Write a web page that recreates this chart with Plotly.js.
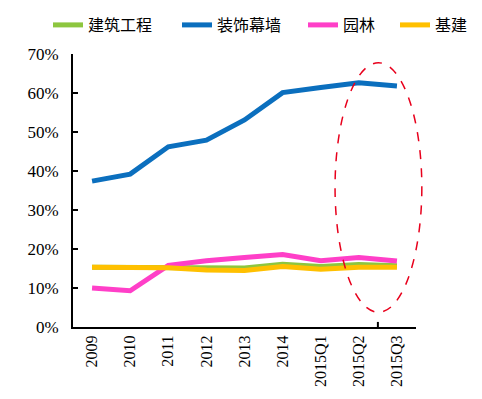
<!DOCTYPE html>
<html><head><meta charset="utf-8">
<script src="https://cdn.plot.ly/plotly-3.0.1.min.js"></script>
<style>html,body{margin:0;padding:0;background:#fff}</style>
</head><body>
<div id="chart" style="width:482px;height:399px"></div>
<script>
const categories = ["2009","2010","2011","2012","2013","2014","2015Q1","2015Q2","2015Q3"];
const jianzhu = [15.3,15.3,15.2,15.0,15.1,16.1,15.5,16.0,15.7];
const zhuangshi = [37.4,39.2,46.2,47.9,53.1,60.1,61.4,62.6,61.8];
const yuanlin = [10.0,9.3,15.8,17.0,17.8,18.6,17.0,17.8,16.9];
const jijian = [15.3,15.3,15.2,14.6,14.5,15.5,14.8,15.3,15.3];
const seriesNames = ["建筑工程","装饰幕墙","园林","基建"];
const yTicks = [0,10,20,30,40,50,60,70];

const mk = (y, name, color, lg) => ({
  x: categories, y: y, name: name, type: "scatter", mode: "lines",
  line: {color: color, width: 5}, legend: lg
});
const data = [
  mk(jianzhu, seriesNames[0], "#8DC63F", "legend"),
  mk(zhuangshi, seriesNames[1], "#0B6FBE", "legend2"),
  mk(yuanlin, seriesNames[2], "#FF3FC8", "legend3"),
  mk(jijian, seriesNames[3], "#FFC000", "legend4")
];
const lg = (px) => ({orientation: "h", xref: "container", x: px / 482, xanchor: "left",
  yref: "container", y: 1 - 8 / 399, yanchor: "top", bgcolor: "rgba(0,0,0,0)",
  font: {family: "Noto Sans CJK SC", size: 16, color: "#000"}, itemwidth: 30});
const layout = {
  width: 482, height: 399,
  margin: {l: 73, r: 66, t: 54, b: 72, autoexpand: false},
  paper_bgcolor: "#fff", plot_bgcolor: "#fff",
  showlegend: true,
  legend: lg(48), legend2: lg(177), legend3: lg(303), legend4: lg(395),
  xaxis: {type: "category", range: [-0.5, 8.5], showline: true, linecolor: "#000", linewidth: 2,
    ticks: "", showgrid: false, zeroline: false, tickangle: -90,
    tickfont: {family: "Liberation Serif", size: 16, color: "#000"}},
  yaxis: {range: [0, 70], tickvals: yTicks, ticktext: yTicks.map(v => v + "%"),
    showline: true, linecolor: "#000", linewidth: 2, ticks: "inside", ticklen: 5, tickwidth: 2, tickcolor: "#000",
    showgrid: false, zeroline: false, ticklabelstandoff: 9,
    tickfont: {family: "Liberation Serif", size: 17, color: "#000"}},
  shapes: [
    {type: "circle", xref: "paper", yref: "paper", x0: 0.764, x1: 1.017, y0: 0.054, y1: 0.968,
     line: {color: "#E8001C", width: 1.5, dash: "dash"}},
    {type: "line", xref: "x", yref: "y", x0: 7.5, x1: 7.5, y0: 0, y1: 1.3,
     line: {color: "#000", width: 2}}
  ]
};
Plotly.newPlot("chart", data, layout, {displayModeBar: false, staticPlot: true});
</script>
</body></html>
